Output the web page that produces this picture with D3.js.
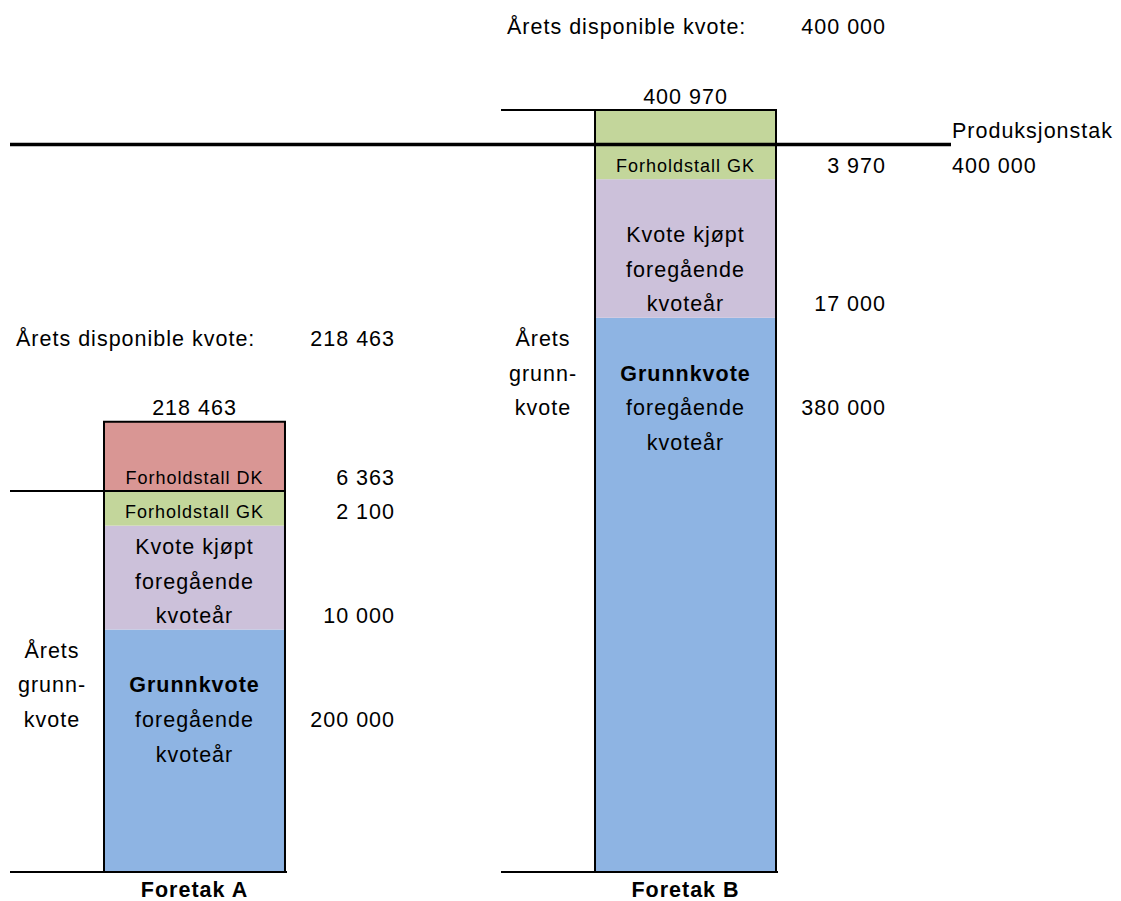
<!DOCTYPE html>
<html>
<head>
<meta charset="utf-8">
<script src="https://cdn.jsdelivr.net/npm/d3@7"></script>
<style>
  body { margin: 0; background: #fff; overflow: hidden; }
  text { font-family: "Liberation Sans", Arial, sans-serif; fill: #000; }
</style>
</head>
<body>
<svg id="chart"></svg>
<script>
const companies = ["Foretak A", "Foretak B"]
const segmentKeys = ["grunnkvote", "kjopt", "gk", "dk"]
const valuesA = [200000, 10000, 2100, 6363]
const valuesB = [380000, 17000, 3970, 0]
const totals = [218463, 400970]
const disponible = [218463, 400000]
const produksjonstak = 400000

// schematic: how many sheet rows each segment fills (not to scale)
const rowsA = [7, 3, 1, 2]
const rowsB = [16, 4, 2, 0]
const guideRows = [11, 22]
const capRow = 21

const segLabels = {
  grunnkvote: ["Grunnkvote", "foregående", "kvoteår"],
  kjopt: ["Kvote kjøpt", "foregående", "kvoteår"],
  gk: ["Forholdstall GK"],
  dk: ["Forholdstall DK"]
}
const colors = {grunnkvote: "#8EB4E3", kjopt: "#CCC1DA", gk: "#C3D69B", dk: "#D99694"}

const width = 1121, height = 901
const rowH = 34.64, bottom = 872

const svg = d3.select("#chart")
  .attr("width", width)
  .attr("height", height)
  .style("display", "block")

const fmt = v => d3.format(",")(v).replace(/,/g, " ")

//scales
const y = d3.scaleLinear()
  .domain([0, 25])
  .range([bottom, bottom - 25 * rowH])

const x = d3.scaleBand()
  .domain(companies)
  .range([104, 776])
  .paddingInner(0.6314)
  .paddingOuter(0)

const bw = x.bandwidth()
const textY = r => y(r + 0.5) + 4

const addText = (g, tx, r, str, opts = {}) => g.append("text")
  .attr("x", tx)
  .attr("y", textY(r) + (opts.dy || 0))
  .attr("dominant-baseline", "central")
  .attr("text-anchor", opts.anchor || "middle")
  .style("font-size", (opts.size || 21.5) + "px")
  .style("letter-spacing", "1px")
  .style("font-weight", opts.bold ? "bold" : "normal")
  .text(str)

const series = [valuesA, valuesB]
const rowSeries = [rowsA, rowsB]

companies.forEach((c, ci) => {
  const g = svg.append("g")
  const x0 = x(c), x1 = x0 + bw, cx = x0 + bw / 2
  const left = x0 - 94
  const valX = x0 + 291
  const vals = series[ci], rows = rowSeries[ci]

  // stacked rows
  let acc = 0
  const stack = segmentKeys.map((k, i) => {
    const s = {key: k, value: vals[i], r0: acc, r1: acc + rows[i]}
    acc += rows[i]
    return s
  }).filter(s => s.r1 > s.r0)
  const topRow = acc

  g.selectAll("rect")
    .data(stack)
    .join("rect")
    .attr("x", x0)
    .attr("width", bw)
    .attr("y", d => y(d.r1))
    .attr("height", d => y(d.r0) - y(d.r1))
    .attr("fill", d => colors[d.key])

  // outline
  g.append("path")
    .attr("d", d3.line()([[x0, y(0)], [x0, y(topRow)], [x1, y(topRow)], [x1, y(0)]]))
    .attr("fill", "none")
    .attr("stroke", "#000")
    .attr("stroke-width", 2)

  // base line
  g.append("line")
    .attr("x1", left).attr("x2", x1 + 2)
    .attr("y1", y(0)).attr("y2", y(0))
    .attr("stroke", "#000").attr("stroke-width", 2)

  // guide line
  g.append("line")
    .attr("x1", left).attr("x2", x1)
    .attr("y1", y(guideRows[ci])).attr("y2", y(guideRows[ci]))
    .attr("stroke", "#000").attr("stroke-width", 2)

  // segment labels and values
  stack.forEach((s, i) => {
    const lines = segLabels[s.key]
    const small = s.key === "gk" || s.key === "dk"
    let first, valRow
    if (i === 0) {
      first = s.r1 - 2
      valRow = first - 1
    } else {
      first = s.r0 + lines.length - 1
      valRow = s.r0
    }
    lines.forEach((t, li) => {
      addText(g, cx, first - li, t, {size: small ? 18 : 21.5, bold: i === 0 && li === 0})
    })
    addText(g, valX, valRow, fmt(s.value), {anchor: "end"})
  })

  // Årets grunnkvote
  const gTop = stack[0].r1 - 1
  ;["Årets", "grunn-", "kvote"].forEach((t, li) => addText(g, left + 42, gTop - li, t))

  // totals
  addText(g, cx, topRow, fmt(totals[ci]))
  addText(g, x0 - 88, topRow + 2, "Årets disponible kvote:", {anchor: "start"})
  addText(g, valX, topRow + 2, fmt(disponible[ci]), {anchor: "end"})

  addText(g, cx, -1, c, {bold: true, dy: -3})
})

// produksjonstak line
svg.append("line")
  .attr("x1", 10).attr("x2", 951)
  .attr("y1", y(capRow)).attr("y2", y(capRow))
  .attr("stroke", "#000").attr("stroke-width", 3.5)

const tg = svg.append("g")
addText(tg, 952, capRow, "Produksjonstak", {anchor: "start"})
addText(tg, 952, capRow - 1, fmt(produksjonstak), {anchor: "start"})
</script>
</body>
</html>
